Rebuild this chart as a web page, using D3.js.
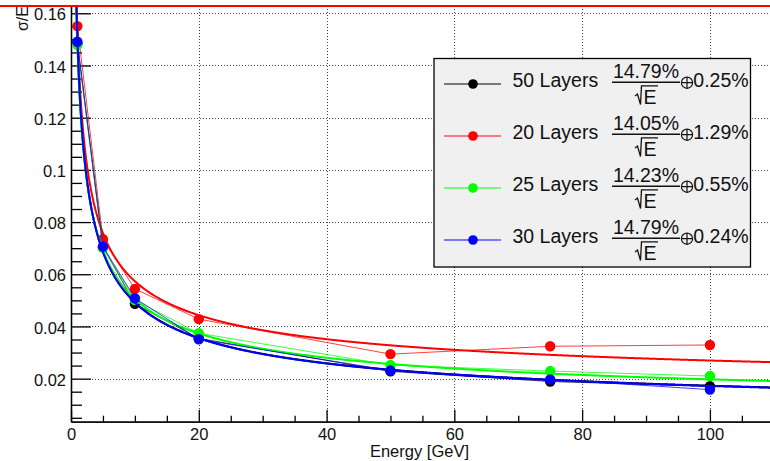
<!DOCTYPE html>
<html>
<head>
<meta charset="utf-8">
<script src="https://cdn.jsdelivr.net/npm/d3@7"></script>
<style>
  html, body { margin: 0; padding: 0; background: #fff; }
  svg { display: block; font-family: "Liberation Sans", Arial, Helvetica, sans-serif; }
</style>
</head>
<body>
<svg id="chart" width="770" height="461"></svg>
<script>
// Beam energies (GeV) and measured relative resolution sigma/E per configuration
const energies = [1, 5, 10, 20, 50, 75, 100];
const layers50 = [0.1485, 0.0705, 0.0487, 0.0354, 0.0228, 0.0189, 0.0171];
const layers20 = [0.1551, 0.0734, 0.0544, 0.0428, 0.0294, 0.0324, 0.0329];
const layers25 = [0.1479, 0.0701, 0.0501, 0.0374, 0.0252, 0.0229, 0.0210];
const layers30 = [0.1491, 0.0706, 0.0508, 0.0351, 0.0231, 0.0197, 0.0158];

// Fit parameters (percent): stochastic term a and constant term b
const seriesNames = ["50 Layers", "20 Layers", "25 Layers", "30 Layers"];
const seriesColors = ["#000000", "#ff0000", "#00ff00", "#0000ff"];
const stochastic = [14.79, 14.05, 14.23, 14.79];
const constant = [0.25, 1.29, 0.55, 0.24];

const xTicks = [0, 20, 40, 60, 80, 100];
const yTicks = [0.02, 0.04, 0.06, 0.08, 0.1, 0.12, 0.14, 0.16];

const svg = d3.select("#chart");
const fLeft = 71, fRight = 770.3, fTop = 6, fBottom = 421.7;

const x = d3.scaleLinear().domain([0, 109.45]).range([fLeft, fRight]);
const y = d3.scaleLinear().domain([0.0035, 0.1628]).range([fBottom, fTop]);

// grid
const grid = svg.append("g").attr("stroke", "#444").attr("stroke-width", 1)
  .attr("stroke-dasharray", "1,2");
xTicks.filter(d => d > 0).forEach(d => {
  grid.append("line").attr("x1", Math.round(x(d)) + 0.5).attr("x2", Math.round(x(d)) + 0.5)
    .attr("y1", fTop).attr("y2", fBottom);
});
yTicks.forEach(d => {
  grid.append("line").attr("y1", Math.round(y(d)) + 0.5).attr("y2", Math.round(y(d)) + 0.5)
    .attr("x1", fLeft).attr("x2", fRight);
});

// axes
const xAxis = d3.axisBottom(x).tickValues(xTicks).tickFormat(d3.format("d"))
  .tickSizeInner(-12).tickSizeOuter(0).tickPadding(7);
const xMinor = d3.axisBottom(x).tickValues(d3.range(5, 110, 5).filter(d => d % 20 !== 0))
  .tickFormat("").tickSizeInner(-6).tickSizeOuter(0);
const yAxis = d3.axisLeft(y).tickValues(yTicks).tickFormat(d => String(+d.toFixed(2)))
  .tickSizeInner(-20).tickSizeOuter(0).tickPadding(5);
const yMinor = d3.axisLeft(y).tickValues(d3.range(0.005, 0.1626, 0.005).filter(d => Math.abs(d / 0.02 - Math.round(d / 0.02)) > 1e-6))
  .tickFormat("").tickSizeInner(-11).tickSizeOuter(0);

function styleAxis(g) {
  g.select(".domain").attr("stroke", "#000").attr("stroke-width", 1.3);
  g.selectAll(".tick line").attr("stroke", "#000").attr("stroke-width", 1.3);
  g.selectAll(".tick text").attr("fill", "#111").attr("font-size", 16.5)
    .attr("font-family", "'Liberation Sans', Arial, sans-serif");
}

svg.append("g").attr("transform", `translate(0,${fBottom})`).call(xMinor).call(styleAxis);
svg.append("g").attr("transform", `translate(0,${fBottom})`).call(xAxis).call(styleAxis);
svg.append("g").attr("transform", `translate(${fLeft},0)`).call(yMinor).call(styleAxis);
svg.append("g").attr("transform", `translate(${fLeft},0)`).call(yAxis).call(styleAxis)
  .selectAll(".tick text").attr("dy", "0.4em");

// axis titles
svg.append("text").attr("x", 469).attr("y", 457).attr("text-anchor", "end")
  .attr("font-size", 16.5).attr("fill", "#111").text("Energy [GeV]");
svg.append("text").attr("transform", "translate(28,6) rotate(-90)").attr("text-anchor", "end")
  .attr("font-size", 16).attr("fill", "#111").text("σ/E");

// data
svg.append("clipPath").attr("id", "frame").append("rect")
  .attr("x", fLeft).attr("y", fTop).attr("width", fRight - fLeft).attr("height", fBottom - fTop);
const plot = svg.append("g").attr("clip-path", "url(#frame)");

const allValues = [layers50, layers20, layers25, layers30];
const line = d3.line().x(d => x(d[0])).y(d => y(d[1]));
const fitE = d3.range(0.3, 110, 0.1);

allValues.forEach((vals, i) => {
  const col = seriesColors[i];
  const pts = energies.map((e, j) => [e, vals[j]]);
  plot.append("path").attr("d", line(pts)).attr("fill", "none")
    .attr("stroke", col).attr("stroke-width", 1).attr("stroke-opacity", 0.75);
  const a = stochastic[i] / 100, b = constant[i] / 100;
  const fit = fitE.map(e => [e, a / Math.sqrt(e) + b]);
  plot.append("path").attr("d", line(fit)).attr("fill", "none")
    .attr("stroke", col).attr("stroke-width", 2);
  plot.selectAll(null).data(pts).enter().append("circle")
    .attr("cx", d => x(d[0])).attr("cy", d => y(d[1])).attr("r", 5.2).attr("fill", col);
});

// top edge line
svg.append("line").attr("x1", 0).attr("x2", 770).attr("y1", 6).attr("y2", 6)
  .attr("stroke", "#ff0000").attr("stroke-width", 2);

// legend
const lg = svg.append("g");
lg.append("rect").attr("x", 434).attr("y", 58.5).attr("width", 316.5).attr("height", 208.5)
  .attr("fill", "#f0f0f0").attr("stroke", "#000").attr("stroke-width", 1.3);
seriesNames.forEach((name, i) => {
  const ry = 84 + i * 52;
  const col = seriesColors[i];
  lg.append("line").attr("x1", 444).attr("x2", 501).attr("y1", ry).attr("y2", ry)
    .attr("stroke", col).attr("stroke-width", 1.2);
  lg.append("circle").attr("cx", 473).attr("cy", ry).attr("r", 4.8).attr("fill", col);
  lg.append("text").attr("x", 512.5).attr("y", ry + 3.3).attr("font-size", 19.5)
    .attr("fill", "#111").text(name);
  // fraction a / sqrt(E)
  lg.append("text").attr("x", 646).attr("y", ry - 5.7).attr("text-anchor", "middle")
    .attr("font-size", 19.5).attr("fill", "#111").text(stochastic[i].toFixed(2) + "%");
  lg.append("line").attr("x1", 612).attr("x2", 680).attr("y1", ry - 1.7).attr("y2", ry - 1.7)
    .attr("stroke", "#111").attr("stroke-width", 1.6);
  lg.append("path")
    .attr("d", `M635,${ry + 12} L637.5,${ry + 10} L640.5,${ry + 20.5} L641.5,${ry + 1.8} L658,${ry + 1.8}`)
    .attr("fill", "none").attr("stroke", "#111").attr("stroke-width", 1.3);
  lg.append("text").attr("x", 643.5).attr("y", ry + 20.3).attr("font-size", 19.5)
    .attr("fill", "#111").text("E");
  // quadrature-sum symbol and constant term
  const cx = 687, cy = ry - 1.3;
  lg.append("circle").attr("cx", cx).attr("cy", cy).attr("r", 5.6)
    .attr("fill", "none").attr("stroke", "#111").attr("stroke-width", 1.2);
  lg.append("path").attr("d", `M${cx - 5.6},${cy} H${cx + 5.6} M${cx},${cy - 5.6} V${cy + 5.6}`)
    .attr("stroke", "#111").attr("stroke-width", 1.2);
  lg.append("text").attr("x", 693.3).attr("y", ry + 3.3).attr("font-size", 19.5)
    .attr("fill", "#111").text(constant[i].toFixed(2) + "%");
});
</script>
</body>
</html>
